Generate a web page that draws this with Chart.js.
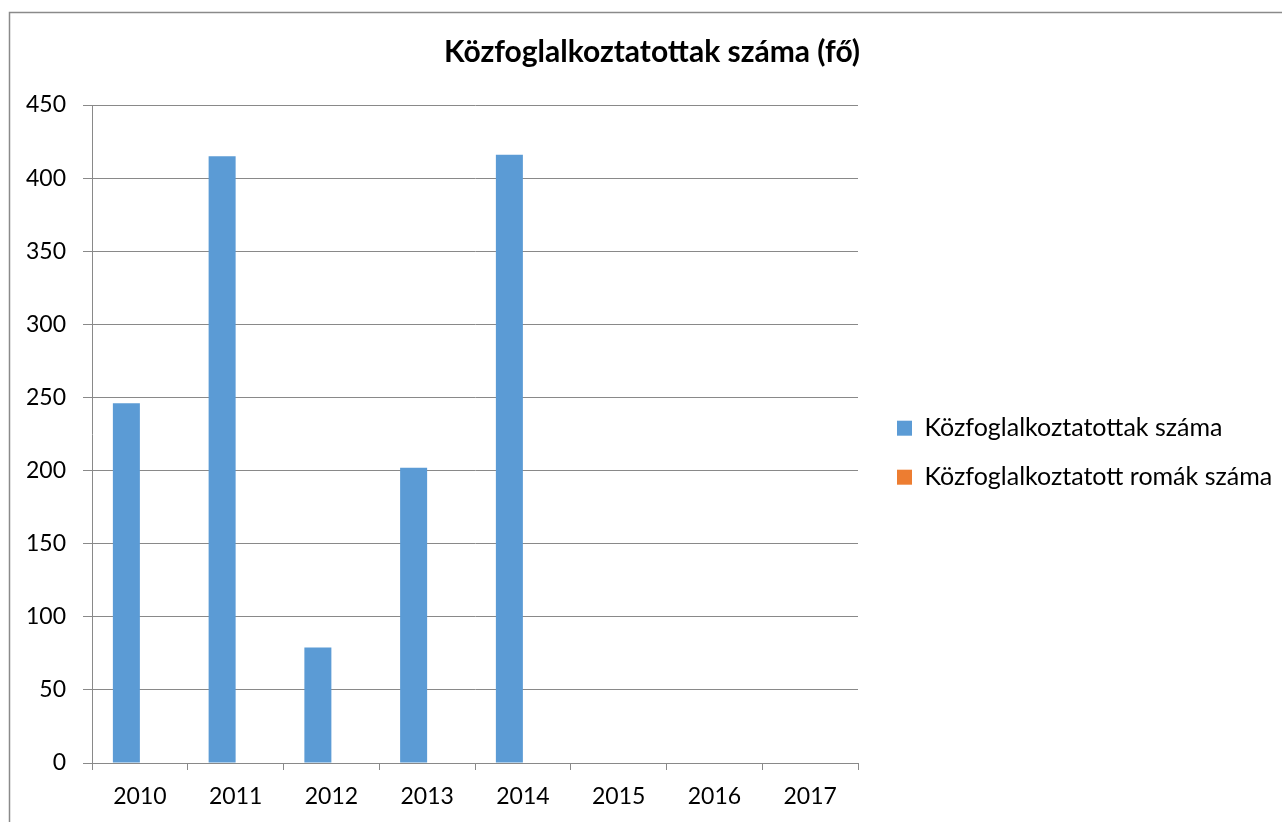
<!DOCTYPE html>
<html>
<head>
<meta charset="utf-8">
<script src="https://cdn.jsdelivr.net/npm/chart.js@4"></script>
<style>
  html, body { margin: 0; padding: 0; background: #fff; }
  canvas { display: block; }
</style>
</head>
<body>
<canvas id="kozfogChart" width="1282" height="822"></canvas>
<script>
// Years on the x axis
const years = ['2010', '2011', '2012', '2013', '2014', '2015', '2016', '2017'];
// Public workers per year (nothing filled in from 2015 on)
const kozfoglalkoztatottak = [246, 415, 79, 202, 416, null, null, null];
// Roma public workers - empty in the source sheet
const romak = [null, null, null, null, null, null, null, null];
// Value axis ticks
const yMin = 0;
const yMax = 450;
const yStep = 50;

const gridColor = '#898989';
const textColor = '#000000';
const fontFamily = 'Lato, "Open Sans", sans-serif';

// Grey frame like the spreadsheet chart border
const framePlugin = {
    id: 'frame',
    beforeDraw(chart) {
        const ctx = chart.ctx;
        ctx.save();
        ctx.fillStyle = '#ffffff';
        ctx.fillRect(0, 0, chart.width, chart.height);
        ctx.strokeStyle = '#8a8a8a';
        ctx.lineWidth = 1.5;
        ctx.beginPath();
        ctx.moveTo(9.5, chart.height + 2);
        ctx.lineTo(9.5, 12.5);
        ctx.lineTo(chart.width + 2, 12.5);
        ctx.stroke();
        ctx.restore();
    }
};

const config = {
    type: 'bar',
    data: {
        labels: years,
        datasets: [{
            label: 'Közfoglalkoztatottak száma',
            data: kozfoglalkoztatottak,
            backgroundColor: '#5B9BD5',
            borderWidth: 0
        }, {
            label: 'Közfoglalkoztatott romák száma',
            data: romak,
            backgroundColor: '#ED7D31',
            borderWidth: 0
        }]
    },
    options: {
        responsive: false,
        animation: false,
        categoryPercentage: 0.564,
        barPercentage: 1,
        layout: {
            padding: { left: 22, right: 0, top: 0, bottom: 0 }
        },
        plugins: {
            title: {
                display: true,
                text: 'Közfoglalkoztatottak száma (fő)',
                color: textColor,
                font: { family: fontFamily, size: 30, weight: 'bold' },
                padding: { top: 34.8, bottom: 34.2 }
            },
            legend: {
                display: true,
                position: 'right',
                maxWidth: 409,
                title: {
                    // empty title only used to push the items down
                    display: true,
                    text: '',
                    font: { size: 12 },
                    padding: { top: 69, bottom: 0 }
                },
                labels: {
                    color: textColor,
                    boxWidth: 15,
                    boxHeight: 15,
                    padding: 24,
                    font: { family: fontFamily, size: 25 }
                }
            },
            tooltip: { enabled: false }
        },
        scales: {
            x: {
                grid: {
                    offset: true,
                    drawOnChartArea: false,
                    color: gridColor,
                    tickLength: 7
                },
                border: { color: gridColor },
                ticks: {
                    color: textColor,
                    padding: 13,
                    font: { family: fontFamily, size: 23 }
                },
                afterFit(scale) { scale.height = 59; }
            },
            y: {
                min: yMin,
                max: yMax,
                grid: {
                    color: gridColor,
                    tickLength: 9
                },
                border: { color: gridColor },
                ticks: {
                    stepSize: yStep,
                    color: textColor,
                    padding: 17,
                    font: { family: fontFamily, size: 23 }
                },
                afterFit(scale) { scale.width = 70; }
            },
            // blank strip between plot and legend
            gap: {
                type: 'linear',
                position: 'right',
                display: true,
                grid: { display: false },
                border: { display: false },
                ticks: { display: false },
                afterFit(scale) { scale.width = 15; }
            }
        }
    },
    plugins: [framePlugin]
};

window.onload = () => {
    const ctx = document.getElementById('kozfogChart').getContext('2d');
    new Chart(ctx, config);
};
</script>
</body>
</html>
